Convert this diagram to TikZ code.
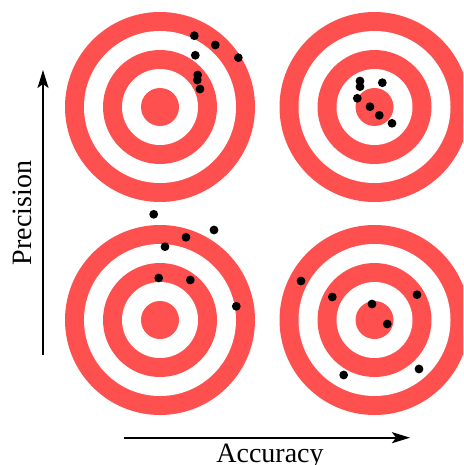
\documentclass[tikz,border=0pt]{standalone}
\usepackage{fontspec}
\setmainfont{Liberation Serif}
\usetikzlibrary{arrows.meta}
\definecolor{tred}{RGB}{255,80,80}
\tikzset{
  ring/.style={fill=tred},
  hole/.style={fill=white},
  shot/.style={fill=black},
  axis/.style={line width=2pt,-{Stealth[length=18pt,width=11pt,inset=4pt]}},
  lab/.style={font=\fontsize{28}{32}\selectfont, inner sep=0pt, anchor=base}
}
\newcommand{\target}[2]{%
  \fill[ring] (#1,#2) circle (95);
  \fill[hole] (#1,#2) circle (76);
  \fill[ring] (#1,#2) circle (57);
  \fill[hole] (#1,#2) circle (38);
  \fill[ring] (#1,#2) circle (19);
}
\newcommand{\shots}[1]{%
  \foreach \px/\py in {#1} { \fill[shot] (\px,-\py) circle (4.4); }
}
\begin{document}
\begin{tikzpicture}[x=1pt,y=1pt]
\useasboundingbox (0,0) rectangle (463,-465);
\clip (0,0) rectangle (463,-465);
% targets
\target{160}{-107}
\target{374.5}{-107}
\target{160}{-320}
\target{374.5}{-320}
% shots
\shots{194.3/35.7, 215.3/45, 238.3/57.7, 195.3/55.3, 197.7/75, 197.3/80, 200/89}
\shots{360/81, 360/86.7, 382.3/82.7, 357.3/98.3, 370/106.7, 379.3/115.3, 392/123.3}
\shots{153.7/214.3, 214/230, 186/237.3, 165/246.7, 158.7/278, 190.3/280, 236.3/306.3}
\shots{301/281, 332.3/297, 417/294.7, 372/304, 387.3/324, 343.7/375, 419/369}
% axes
\coordinate (pbot) at (43,-355);
\coordinate (ptop) at (43,-70);
\coordinate (aleft) at (124,-437.7);
\coordinate (aright) at (410,-437.7);
\draw[axis] (pbot) -- (ptop);
\draw[axis] (aleft) -- (aright);
\node[lab, rotate=90] (prec) at (31.7,-213) {Precision};
\node[lab] (acc) at (270,-462) {Accuracy};
\end{tikzpicture}
\end{document}
